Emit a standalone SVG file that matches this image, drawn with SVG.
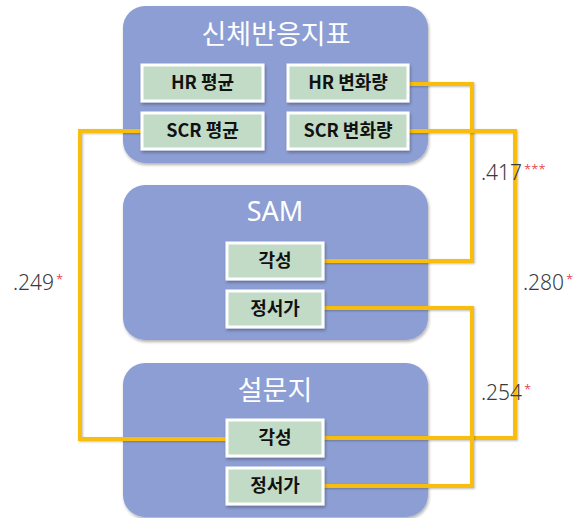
<svg xmlns="http://www.w3.org/2000/svg" width="578" height="518" viewBox="0 0 578 518">
<defs>
<filter id="sh" x="-10%" y="-10%" width="130%" height="140%">
<feDropShadow dx="1" dy="2" stdDeviation="1.5" flood-color="#000" flood-opacity="0.3"/>
</filter>
<filter id="lsh" x="-10%" y="-10%" width="130%" height="130%">
<feDropShadow dx="1" dy="1" stdDeviation="0.8" flood-color="#000" flood-opacity="0.25"/>
</filter>
</defs>
<style>
.panel{fill:#8c9ed3;filter:url(#sh)}
.title{font-family:"Noto Sans","Noto Sans CJK KR",sans-serif;font-size:27px;fill:#fff;text-anchor:middle}
.box{fill:#c1dbc6;stroke:#fff;stroke-width:3;filter:url(#sh)}
.lbl{font-family:"Noto Sans CJK KR",sans-serif;font-weight:bold;font-size:18px;fill:#111;text-anchor:middle}
.conn{fill:none;stroke:#f8bd0c;stroke-width:4;filter:url(#lsh)}
.num{font-family:"Noto Sans",sans-serif;font-weight:300;font-size:21px;fill:#3a3a3a}
.star{fill:#e0202a;font-size:13px}
</style>
<g id="panel-body">
<rect class="panel" x="123" y="6" width="305" height="157" rx="22"/>
<text class="title" x="276" y="44">신체반응지표</text>
</g>
<g id="panel-sam">
<rect class="panel" x="123" y="185" width="305" height="155" rx="22"/>
<text class="title" x="275" y="221">SAM</text>
</g>
<g id="panel-survey">
<rect class="panel" x="123" y="363" width="305" height="154" rx="22"/>
<text class="title" x="275" y="400">설문지</text>
</g>
<g id="connectors">
<path class="conn" d="M408,84 H472 V261 H323"/>
<path class="conn" d="M408,131 H515 V438 H323"/>
<path class="conn" d="M323,308 H472 V486 H323"/>
<path class="conn" d="M141,131 H80 V439 H227"/>
</g>
<g id="hr-mean"><rect class="box" x="142" y="65" width="121" height="36"/><text class="lbl" x="202.5" y="89">HR 평균</text></g>
<g id="hr-change"><rect class="box" x="288" y="65" width="120" height="36"/><text class="lbl" x="348" y="89">HR 변화량</text></g>
<g id="scr-mean"><rect class="box" x="142" y="113" width="121" height="36"/><text class="lbl" x="202.5" y="137">SCR 평균</text></g>
<g id="scr-change"><rect class="box" x="288" y="113" width="120" height="36"/><text class="lbl" x="348" y="137">SCR 변화량</text></g>
<g id="sam-arousal"><rect class="box" x="227" y="243" width="96" height="36"/><text class="lbl" x="275" y="267">각성</text></g>
<g id="sam-valence"><rect class="box" x="227" y="291" width="96" height="36"/><text class="lbl" x="275" y="315">정서가</text></g>
<g id="survey-arousal"><rect class="box" x="227" y="420" width="96" height="36"/><text class="lbl" x="275" y="444">각성</text></g>
<g id="survey-valence"><rect class="box" x="227" y="468" width="96" height="36"/><text class="lbl" x="275" y="492">정서가</text></g>
<g id="labels">
<text class="num" x="481" y="180">.417<tspan class="star" dx="2" dy="-6">***</tspan></text>
<text class="num" x="523" y="290">.280<tspan class="star" dx="2" dy="-6">*</tspan></text>
<text class="num" x="13" y="290">.249<tspan class="star" dx="2" dy="-6">*</tspan></text>
<text class="num" x="481" y="400">.254<tspan class="star" dx="2" dy="-6">*</tspan></text>
</g>
</svg>
